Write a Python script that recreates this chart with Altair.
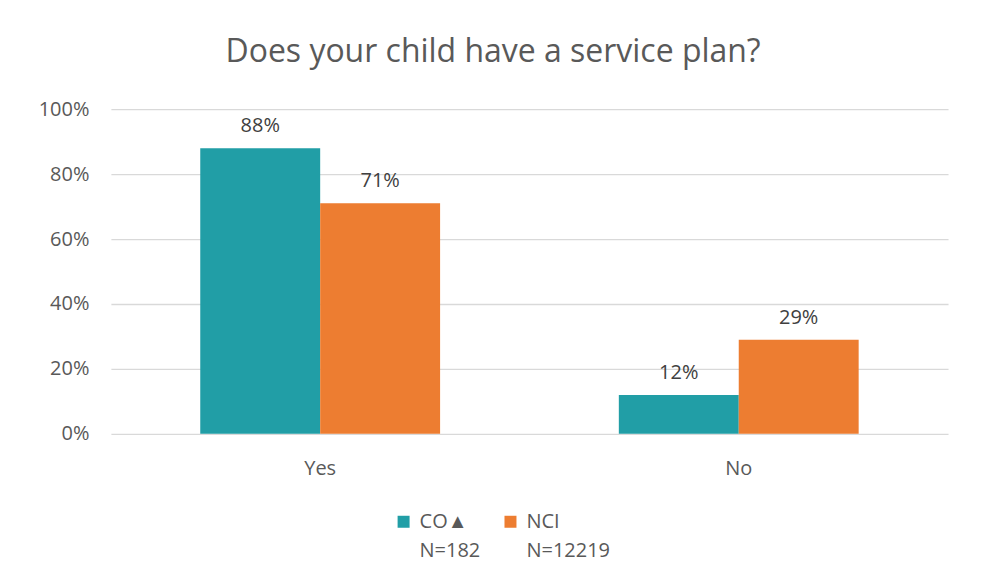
import altair as alt
import pandas as pd

categories = ["Yes", "No"]
series = ["CO", "NCI"]
co_values = [0.88, 0.12]
nci_values = [0.71, 0.29]
co_legend = ["CO▲", "N=182"]
nci_legend = ["NCI", "N=12219"]

rows = []
for i, c in enumerate(categories):
    rows.append({"answer": c, "group": "CO", "value": co_values[i]})
    rows.append({"answer": c, "group": "NCI", "value": nci_values[i]})
df = pd.DataFrame(rows)

FONT = "Open Sans"
GREY = "#595959"

label_expr = ("datum.label == 'CO' ? ['%s', '%s'] : ['%s', '%s']"
              % (co_legend[0], co_legend[1], nci_legend[0], nci_legend[1]))

base = alt.Chart(df).encode(
    x=alt.X("answer:N", sort=categories, title=None,
            scale=alt.Scale(paddingInner=0.427, paddingOuter=0.2135),
            axis=alt.Axis(labelAngle=0, labelFontSize=20, labelColor=GREY, labelFont=FONT,
                          ticks=False, domain=False, labelPadding=25)),
    xOffset=alt.XOffset("group:N", sort=series),
)

bars = base.mark_bar().encode(
    y=alt.Y("value:Q", title=None, scale=alt.Scale(domain=[0, 1]),
            axis=alt.Axis(format=".0%", values=[0, 0.2, 0.4, 0.6, 0.8, 1.0], labelFontSize=20,
                          labelColor=GREY, labelFont=FONT, ticks=False, domain=False,
                          labelPadding=22, gridColor="#D9D9D9", gridWidth=1.3)),
    color=alt.Color("group:N", sort=series,
                    scale=alt.Scale(domain=series, range=["#219EA6", "#ED7D31"]),
                    legend=alt.Legend(title=None, orient="none", legendX=283, legendY=403,
                                      direction="horizontal",
                                      symbolType="square", symbolSize=144, symbolStrokeWidth=0,
                                      labelFontSize=20, labelColor=GREY, labelFont=FONT,
                                      labelExpr=label_expr, labelBaseline="middle", labelOffset=6,
                                      columnPadding=20)),
)

labels = base.mark_text(dy=-12, fontSize=20, color="#404040", font=FONT, baseline="bottom").encode(
    y="value:Q",
    text=alt.Text("value:Q", format=".0%"),
)

chart = (bars + labels).properties(
    width=838, height=325,
    padding={"left": 30, "top": 28, "right": 26, "bottom": 10},
    title=alt.Title("Does your child have a service plan?", fontSize=32, color=GREY,
                    font=FONT, fontWeight="normal", offset=30, frame="bounds"),
).configure(
    view=alt.ViewConfig(stroke=None),
    style={"guide-label": {"lineHeight": 29}},
)

chart.save("out.html", embed_options={"renderer": "svg", "actions": False})
